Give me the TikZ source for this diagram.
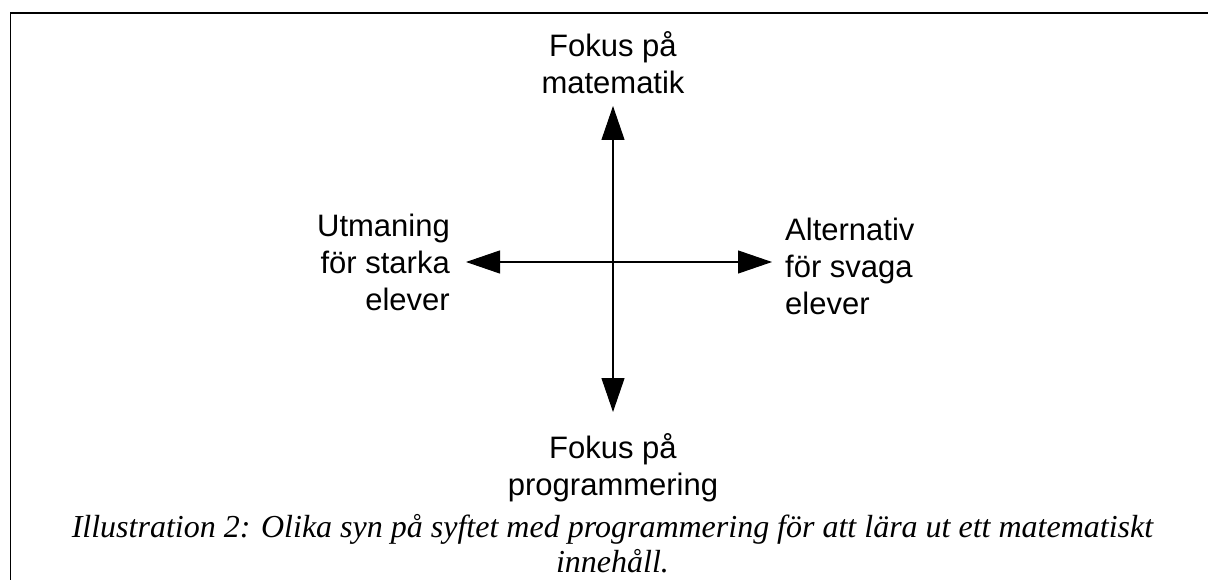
\documentclass[tikz,border=0pt]{standalone}
\usepackage{fontspec}
\setmainfont{Liberation Sans}
\newfontfamily\capfont{Liberation Serif}
\usetikzlibrary{arrows.meta}
\begin{document}
\begin{tikzpicture}[x=1pt,y=-1pt,
  lbl/.style={inner sep=0pt, font=\fontsize{31}{37}\selectfont},
  axis/.style={line width=1.1pt, {Triangle[length=34pt,width=23pt]}-{Triangle[length=34pt,width=23pt]}},
  frame/.style={line width=1.8pt},
  captxt/.style={inner sep=0pt, align=center, font=\capfont\itshape\fontsize{32}{35}\selectfont}]
\useasboundingbox (0,0) rectangle (1208,580);
\draw[frame] (10.5,580) -- (10.5,13) -- (1208,13);
\coordinate (top) at (613,106);
\coordinate (bot) at (613,412);
\coordinate (lft) at (466,262);
\coordinate (rgt) at (772,262);
\draw[axis] (bot) -- (top);
\draw[axis] (lft) -- (rgt);
\node[lbl, align=center] (mat) at (613,63) {Fokus på\\matematik};
\node[lbl, align=center] (prog) at (613,468) {Fokus på\\programmering};
\node[lbl, align=right, anchor=east] (stark) at (450,262) {Utmaning\\för starka\\elever};
\node[lbl, align=left, anchor=west] (svag) at (785,266) {Alternativ\\för svaga\\elever};
\node[captxt] (caption) at (612.5,544) {Illustration 2: Olika syn på syftet med programmering för att lära ut ett matematiskt\\innehåll.};
\end{tikzpicture}
\end{document}
